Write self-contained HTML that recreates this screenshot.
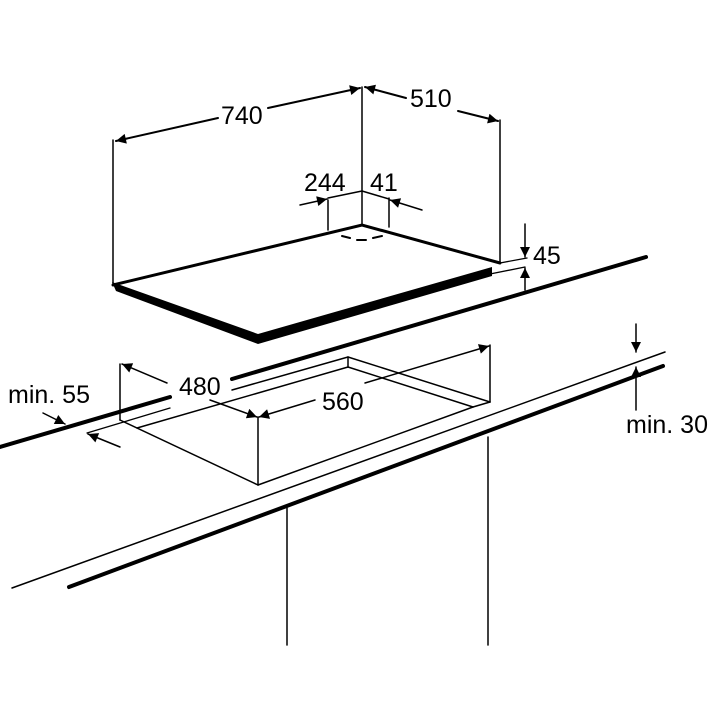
<!DOCTYPE html>
<html><head><meta charset="utf-8"><style>
html,body{margin:0;padding:0;background:#fff;}
svg{display:block;}
text{font-family:"Liberation Sans",sans-serif;font-size:25px;fill:#000;}
</style></head><body>
<svg width="720" height="720" viewBox="0 0 720 720" xmlns="http://www.w3.org/2000/svg">
<defs>
<marker id="a" viewBox="0 0 10 10" refX="10" refY="5" markerWidth="16" markerHeight="10" markerUnits="userSpaceOnUse" orient="auto"><path d="M0,0 L10,5 L0,10 z" fill="#000"/></marker>
</defs>
<g stroke="#000" fill="none" stroke-linecap="round">
<path d="M113,285 L362,225 L500,263" stroke-width="3"/>
<polygon points="112,282 258,334 492,267 492,276 258,344 116,291" fill="#000" stroke="none"/>
<line x1="113" y1="140" x2="113" y2="285" stroke-width="1.5"/>
<line x1="362" y1="87" x2="362" y2="225" stroke-width="1.5"/>
<line x1="500" y1="120" x2="500" y2="263" stroke-width="1.5"/>
<line x1="218" y1="118" x2="116" y2="141" stroke-width="2" marker-end="url(#a)"/>
<line x1="268" y1="108" x2="360" y2="88" stroke-width="2" marker-end="url(#a)"/>
<line x1="406" y1="98" x2="365" y2="87" stroke-width="2" marker-end="url(#a)"/>
<line x1="458" y1="111" x2="498" y2="121" stroke-width="2" marker-end="url(#a)"/>
<line x1="328" y1="200" x2="328" y2="230" stroke-width="1.5"/>
<line x1="389" y1="198" x2="389" y2="227" stroke-width="1.5"/>
<line x1="328" y1="198" x2="362" y2="191" stroke-width="1.5"/>
<line x1="362" y1="191" x2="389" y2="199" stroke-width="1.5"/>
<line x1="300" y1="205" x2="327" y2="199" stroke-width="1.5" marker-end="url(#a)"/>
<line x1="422" y1="210" x2="390" y2="200" stroke-width="1.5" marker-end="url(#a)"/>
<path d="M342,236 L350,238 M357,240 L366,240 M373,238 L382,236" stroke-width="2"/>
<line x1="500" y1="263" x2="527" y2="258" stroke-width="1.3"/>
<line x1="490" y1="274" x2="525" y2="267" stroke-width="1.3"/>
<line x1="525" y1="224" x2="525" y2="257" stroke-width="1.5" marker-end="url(#a)"/>
<line x1="525" y1="290" x2="525" y2="268" stroke-width="1.5" marker-end="url(#a)"/>
<line x1="0" y1="447" x2="170" y2="397" stroke-width="4"/>
<line x1="232" y1="379" x2="646" y2="257" stroke-width="4"/>
<line x1="87" y1="433" x2="170" y2="408" stroke-width="1.3"/>
<line x1="232" y1="390" x2="348" y2="357" stroke-width="1.5"/>
<line x1="120" y1="364" x2="120" y2="420" stroke-width="1.5"/>
<line x1="120" y1="420" x2="258" y2="485" stroke-width="1.5"/>
<line x1="258" y1="417" x2="258" y2="485" stroke-width="1.5"/>
<line x1="258" y1="485" x2="473" y2="407" stroke-width="1.5"/>
<line x1="348" y1="357" x2="348" y2="367" stroke-width="1.5"/>
<line x1="348" y1="367" x2="137" y2="428" stroke-width="1.5"/>
<line x1="348" y1="357" x2="490" y2="402" stroke-width="1.5"/>
<line x1="348" y1="367" x2="473" y2="407" stroke-width="1.5"/>
<line x1="473" y1="407" x2="490" y2="402" stroke-width="1.5"/>
<line x1="490" y1="345" x2="490" y2="402" stroke-width="1.5"/>
<line x1="167" y1="383" x2="122" y2="364" stroke-width="1.5" marker-end="url(#a)"/>
<line x1="210" y1="400" x2="257" y2="417" stroke-width="1.5" marker-end="url(#a)"/>
<line x1="315" y1="400" x2="259" y2="417" stroke-width="1.5" marker-end="url(#a)"/>
<line x1="365" y1="383" x2="489" y2="346" stroke-width="1.5" marker-end="url(#a)"/>
<line x1="43" y1="413" x2="65" y2="424" stroke-width="1.5" marker-end="url(#a)"/>
<line x1="120" y1="447" x2="88" y2="434" stroke-width="1.5" marker-end="url(#a)"/>
<line x1="12" y1="588" x2="665" y2="352" stroke-width="1.5"/>
<line x1="69" y1="587" x2="663" y2="366" stroke-width="4"/>
<line x1="636" y1="324" x2="636" y2="352" stroke-width="1.5" marker-end="url(#a)"/>
<line x1="636" y1="410" x2="636" y2="367" stroke-width="1.5" marker-end="url(#a)"/>
<line x1="287" y1="508" x2="287" y2="645" stroke-width="1.5"/>
<line x1="488" y1="437" x2="488" y2="645" stroke-width="1.5"/>
</g>
<text x="221" y="124">740</text>
<text x="410" y="107">510</text>
<text x="304" y="191">244</text>
<text x="370" y="191">41</text>
<text x="533" y="264">45</text>
<text x="179" y="395">480</text>
<text x="322" y="410">560</text>
<text x="8" y="403">min. 55</text>
<text x="626" y="433">min. 30</text>
</svg>
</body></html>
